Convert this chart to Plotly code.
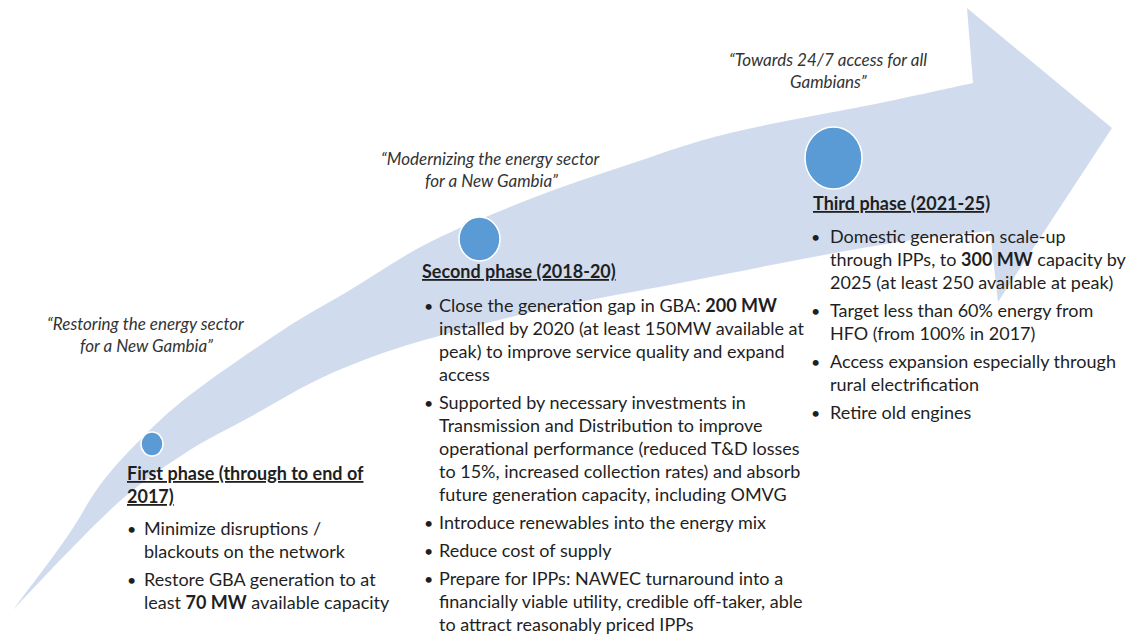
import plotly.graph_objects as go

W, H = 1130, 637

# ---- content ----
quotes = [
    ["“Restoring the energy sector", "for a New Gambia”"],
    ["“Modernizing the energy sector", "for a New Gambia”"],
    ["“Towards 24/7 access for all", "Gambians”"],
]
phase_titles = [
    ["First phase (through to end of", "2017)"],
    ["Second phase (2018-20)"],
    ["Third phase (2021-25)"],
]
phase_bullets = [
    [
        ["Minimize disruptions /", "blackouts on the network"],
        ["Restore GBA generation to at", "least <b>70 MW</b> available capacity"],
    ],
    [
        ["Close the generation gap in GBA: <b>200 MW</b>",
         "installed by 2020 (at least 150MW available at",
         "peak) to improve service quality and expand",
         "access"],
        ["Supported by necessary investments in",
         "Transmission and Distribution to improve",
         "operational performance (reduced T&D losses",
         "to 15%, increased collection rates) and absorb",
         "future generation capacity, including OMVG"],
        ["Introduce renewables into the energy mix"],
        ["Reduce cost of supply"],
        ["Prepare for IPPs: NAWEC turnaround into a",
         "financially viable utility, credible off-taker, able",
         "to attract reasonably priced IPPs"],
    ],
    [
        ["Domestic generation scale-up",
         "through IPPs, to <b>300 MW</b> capacity by",
         "2025 (at least 250 available at peak)"],
        ["Target less than 60% energy from", "HFO (from 100% in 2017)"],
        ["Access expansion especially through", "rural electrification"],
        ["Retire old engines"],
    ],
]

# ---- layout geometry (pixels) ----
quote_pos = [(146, 323), (491, 158), (828, 59)]
title_pos = [(125, 473), (420, 271), (811, 203)]
bullet_x = [(131, 142), (428, 437), (815, 828)]
bullet_y0 = [528, 305, 236]
circles = [(152, 444, 11, 12), (479.5, 239, 20.5, 22), (833.5, 158, 28.5, 31)]

outer_edge = [(13, 610), (67, 537), (100, 485), (140, 440), (190, 395), (283, 330),
              (350, 290), (430, 242), (530, 199), (630, 164), (730, 133), (880, 103), (973, 83)]
inner_edge = [(990, 231), (913, 240), (813, 257), (680, 283), (550, 308), (450, 333),
              (383, 353), (317, 380), (250, 417), (190, 450), (127, 495), (70, 550), (13, 610)]
head = [(967, 8), (1112, 128), (998, 302)]

BAND = "#D0DCEE"
DOT = "#5B9BD5"
TXT = "#1f1f1f"
QTXT = "#333333"
FONT = "Lato"
FS = 18
QFS = 17
LH = 23
GAP = 28


def catmull(pts):
    s = ""
    n = len(pts)
    for i in range(n - 1):
        p0 = pts[i - 1] if i > 0 else pts[i]
        p1 = pts[i]
        p2 = pts[i + 1]
        p3 = pts[i + 2] if i + 2 < n else pts[i + 1]
        c1 = (p1[0] + (p2[0] - p0[0]) / 6, p1[1] + (p2[1] - p0[1]) / 6)
        c2 = (p2[0] - (p3[0] - p1[0]) / 6, p2[1] - (p3[1] - p1[1]) / 6)
        s += f" C {c1[0]:.1f},{c1[1]:.1f} {c2[0]:.1f},{c2[1]:.1f} {p2[0]:.1f},{p2[1]:.1f}"
    return s


path = f"M {outer_edge[0][0]},{outer_edge[0][1]}" + catmull(outer_edge)
for p in head:
    path += f" L {p[0]},{p[1]}"
path += f" L {inner_edge[0][0]},{inner_edge[0][1]}" + catmull(inner_edge) + " Z"

fig = go.Figure()
fig.add_trace(go.Scatter(x=[0, W], y=[0, H], mode="markers", marker=dict(opacity=0),
                         hoverinfo="skip", showlegend=False))

shapes = [dict(type="path", path=path, xref="x", yref="y", fillcolor=BAND,
               line=dict(width=0), layer="below")]
for cx, cy, rx, ry in circles:
    shapes.append(dict(type="circle", xref="x", yref="y", x0=cx - rx, x1=cx + rx,
                       y0=cy - ry, y1=cy + ry, fillcolor=DOT,
                       line=dict(color="white", width=1.5), layer="above"))

ann = []
for lines, (qx, qy) in zip(quotes, quote_pos):
    for k, ln in enumerate(lines):
        ann.append(dict(x=qx, y=qy + k * 22, text=f"<i>{ln}</i>", xanchor="center",
                        yanchor="middle", showarrow=False,
                        font=dict(family=FONT, size=QFS, color=QTXT)))

for lines, (tx, ty) in zip(phase_titles, title_pos):
    for k, ln in enumerate(lines):
        ann.append(dict(x=tx, y=ty + k * LH, text=f"<b><u>{ln}</u></b>", xanchor="left",
                        yanchor="middle", showarrow=False,
                        font=dict(family=FONT, size=FS, color=TXT)))

for bullets, (bx, tx), y0 in zip(phase_bullets, bullet_x, bullet_y0):
    y = y0
    for b in bullets:
        ann.append(dict(x=bx, y=y, text="•", xanchor="center", yanchor="middle",
                        showarrow=False, font=dict(family=FONT, size=FS - 2, color=TXT)))
        for k, ln in enumerate(b):
            ann.append(dict(x=tx, y=y + k * LH, text=ln, xanchor="left", yanchor="middle",
                            showarrow=False, font=dict(family=FONT, size=FS, color=TXT)))
        y += (len(b) - 1) * LH + GAP

fig.update_layout(
    width=W, height=H, margin=dict(l=0, r=0, t=0, b=0),
    paper_bgcolor="white", plot_bgcolor="white",
    xaxis=dict(range=[0, W], visible=False, fixedrange=True),
    yaxis=dict(range=[H, 0], visible=False, fixedrange=True),
    shapes=shapes, annotations=ann, showlegend=False,
)
fig.write_html("out.html", config=dict(displayModeBar=False),
               post_script="document.body.style.margin='0';document.body.style.overflow='hidden';")
